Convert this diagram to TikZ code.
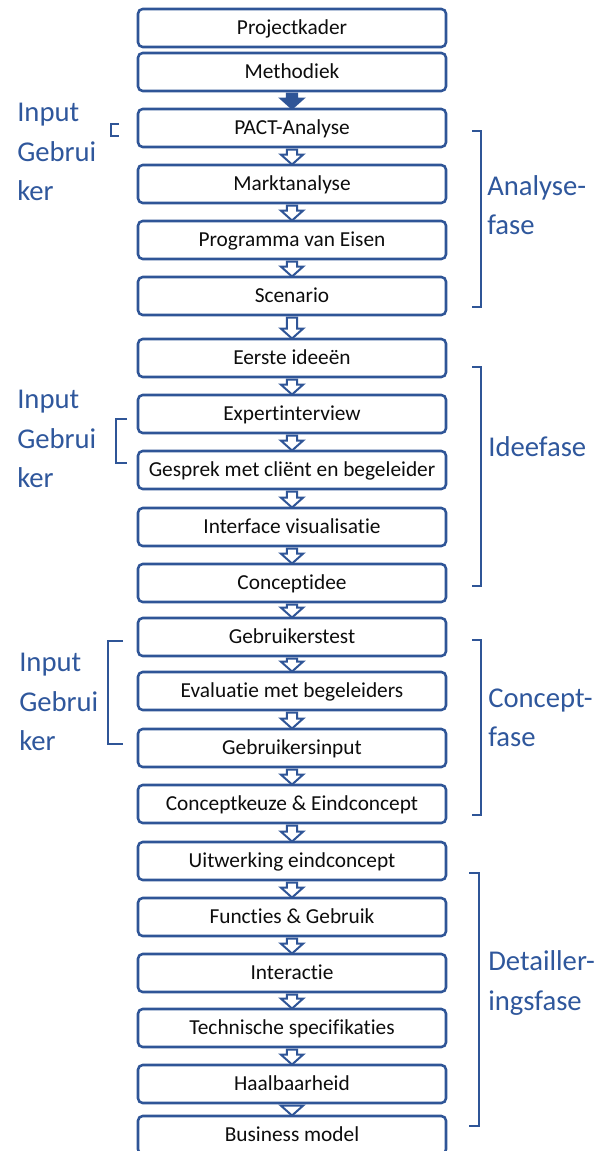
\documentclass[tikz,border=0pt]{standalone}
\usepackage{fontspec}
\setmainfont{Carlito}[Ligatures=NoCommon]
\usetikzlibrary{calc}
\pgfdeclarelayer{back}
\pgfsetlayers{back,main}
\definecolor{flowblue}{RGB}{47,85,151}
\definecolor{labelblue}{RGB}{47,87,156}
\definecolor{inktext}{RGB}{13,13,13}
\tikzset{
  stagebox/.style={draw=flowblue, line width=1.9pt, fill=white, rounded corners=3.5pt,
    minimum width=231pt, minimum height=28.5pt, inner sep=0pt,
    text height=11pt, text depth=1.2pt,
    font=\fontsize{16pt}{18pt}\selectfont, text=inktext},
  arrowline/.style={draw=flowblue, line width=1.5pt, line join=miter},
  phaselabel/.style={text=labelblue, inner sep=0pt, align=left,
    font=\fontsize{21.5pt}{29.6pt}\selectfont},
  bracketline/.style={draw=flowblue, line width=1.9pt}
}
% block arrow from the bottom of one stage to the top of the next
\newcommand\flowarrow[3][white]{%
  \begin{pgfonlayer}{back}
  \filldraw[arrowline, fill=#1] let \p1=(#2.south), \p2=(#3.north) in
    ({\x1-3.9pt},{\y1-1pt}) -- ({\x1-3.9pt},{\y2+6.9pt}) -- ({\x1-8.4pt},{\y2+6.9pt})
    -- (\x2,{\y2-0.6pt}) -- ({\x1+8.4pt},{\y2+6.9pt}) -- ({\x1+3.9pt},{\y2+6.9pt})
    -- ({\x1+3.9pt},{\y1-1pt}) -- cycle;
  \end{pgfonlayer}}
\begin{document}
\begin{tikzpicture}[x=0.75pt, y=-0.75pt]
\useasboundingbox (0,0) rectangle (610,1151);
\clip (0,0) rectangle (610,1151);

% stages
\node[stagebox] (n1)  at (292,28)   {Projectkader};
\node[stagebox] (n2)  at (292,72)   {Methodiek};
\node[stagebox] (n3)  at (292,128)  {PACT-Analyse};
\node[stagebox] (n4)  at (292,184)  {Marktanalyse};
\node[stagebox] (n5)  at (292,240)  {Programma van Eisen};
\node[stagebox] (n6)  at (292,296)  {Scenario};
\node[stagebox] (n7)  at (292,358)  {Eerste ideeën};
\node[stagebox] (n8)  at (292,414)  {Expertinterview};
\node[stagebox] (n9)  at (292,470)  {Gesprek met cliënt en begeleider};
\node[stagebox] (n10) at (292,527)  {Interface visualisatie};
\node[stagebox] (n11) at (292,583)  {Conceptidee};
\node[stagebox] (n12) at (292,637)  {Gebruikerstest};
\node[stagebox] (n13) at (292,691)  {Evaluatie met begeleiders};
\node[stagebox] (n14) at (292,748)  {Gebruikersinput};
\node[stagebox] (n15) at (292,804)  {Conceptkeuze \& Eindconcept};
\node[stagebox] (n16) at (292,861)  {Uitwerking eindconcept};
\node[stagebox] (n17) at (292,917)  {Functies \& Gebruik};
\node[stagebox] (n18) at (292,973)  {Interactie};
\node[stagebox] (n19) at (292,1028) {Technische specifikaties};
\node[stagebox] (n20) at (292,1084) {Haalbaarheid};
\node[stagebox] (n21) at (292,1135) {Business model};

% arrows between stages
\flowarrow[flowblue]{n2}{n3}
\foreach \a/\b in {3/4,4/5,5/6,6/7,7/8,8/9,9/10,10/11,11/12,12/13,13/14,14/15,15/16,16/17,17/18,18/19,19/20,20/21}
  {\flowarrow{n\a}{n\b}}

% phase brackets on the right
\draw[bracketline] (472,131) -- (481,131) -- (481,307) -- (472,307);
\draw[bracketline] (472,367) -- (481,367) -- (481,586) -- (472,586);
\draw[bracketline] (472,640) -- (481,640) -- (481,815) -- (472,815);
\draw[bracketline] (469,873) -- (479,873) -- (479,1126) -- (469,1126);

\node[phaselabel, anchor=west] (ph1) at (487,205) {Analyse-\\fase};
\node[phaselabel, anchor=west] (ph2) at (488,447) {Ideefase};
\node[phaselabel, anchor=west] (ph3) at (488,718) {Concept-\\fase};
\node[phaselabel, anchor=west] (ph4) at (488,983) {Detailler-\\ingsfase};

% user input brackets on the left
\draw[bracketline] (119,124) -- (111,124) -- (111,136) -- (119,136);
\draw[bracketline] (127,419) -- (116,419) -- (116,463) -- (127,463);
\draw[bracketline] (123,641) -- (108,641) -- (108,744) -- (123,744);

\node[phaselabel, anchor=west] (in1) at (17,152) {Input\\Gebrui\\ker};
\node[phaselabel, anchor=west] (in2) at (17,439) {Input\\Gebrui\\ker};
\node[phaselabel, anchor=west] (in3) at (19,702) {Input\\Gebrui\\ker};
\end{tikzpicture}
\end{document}
